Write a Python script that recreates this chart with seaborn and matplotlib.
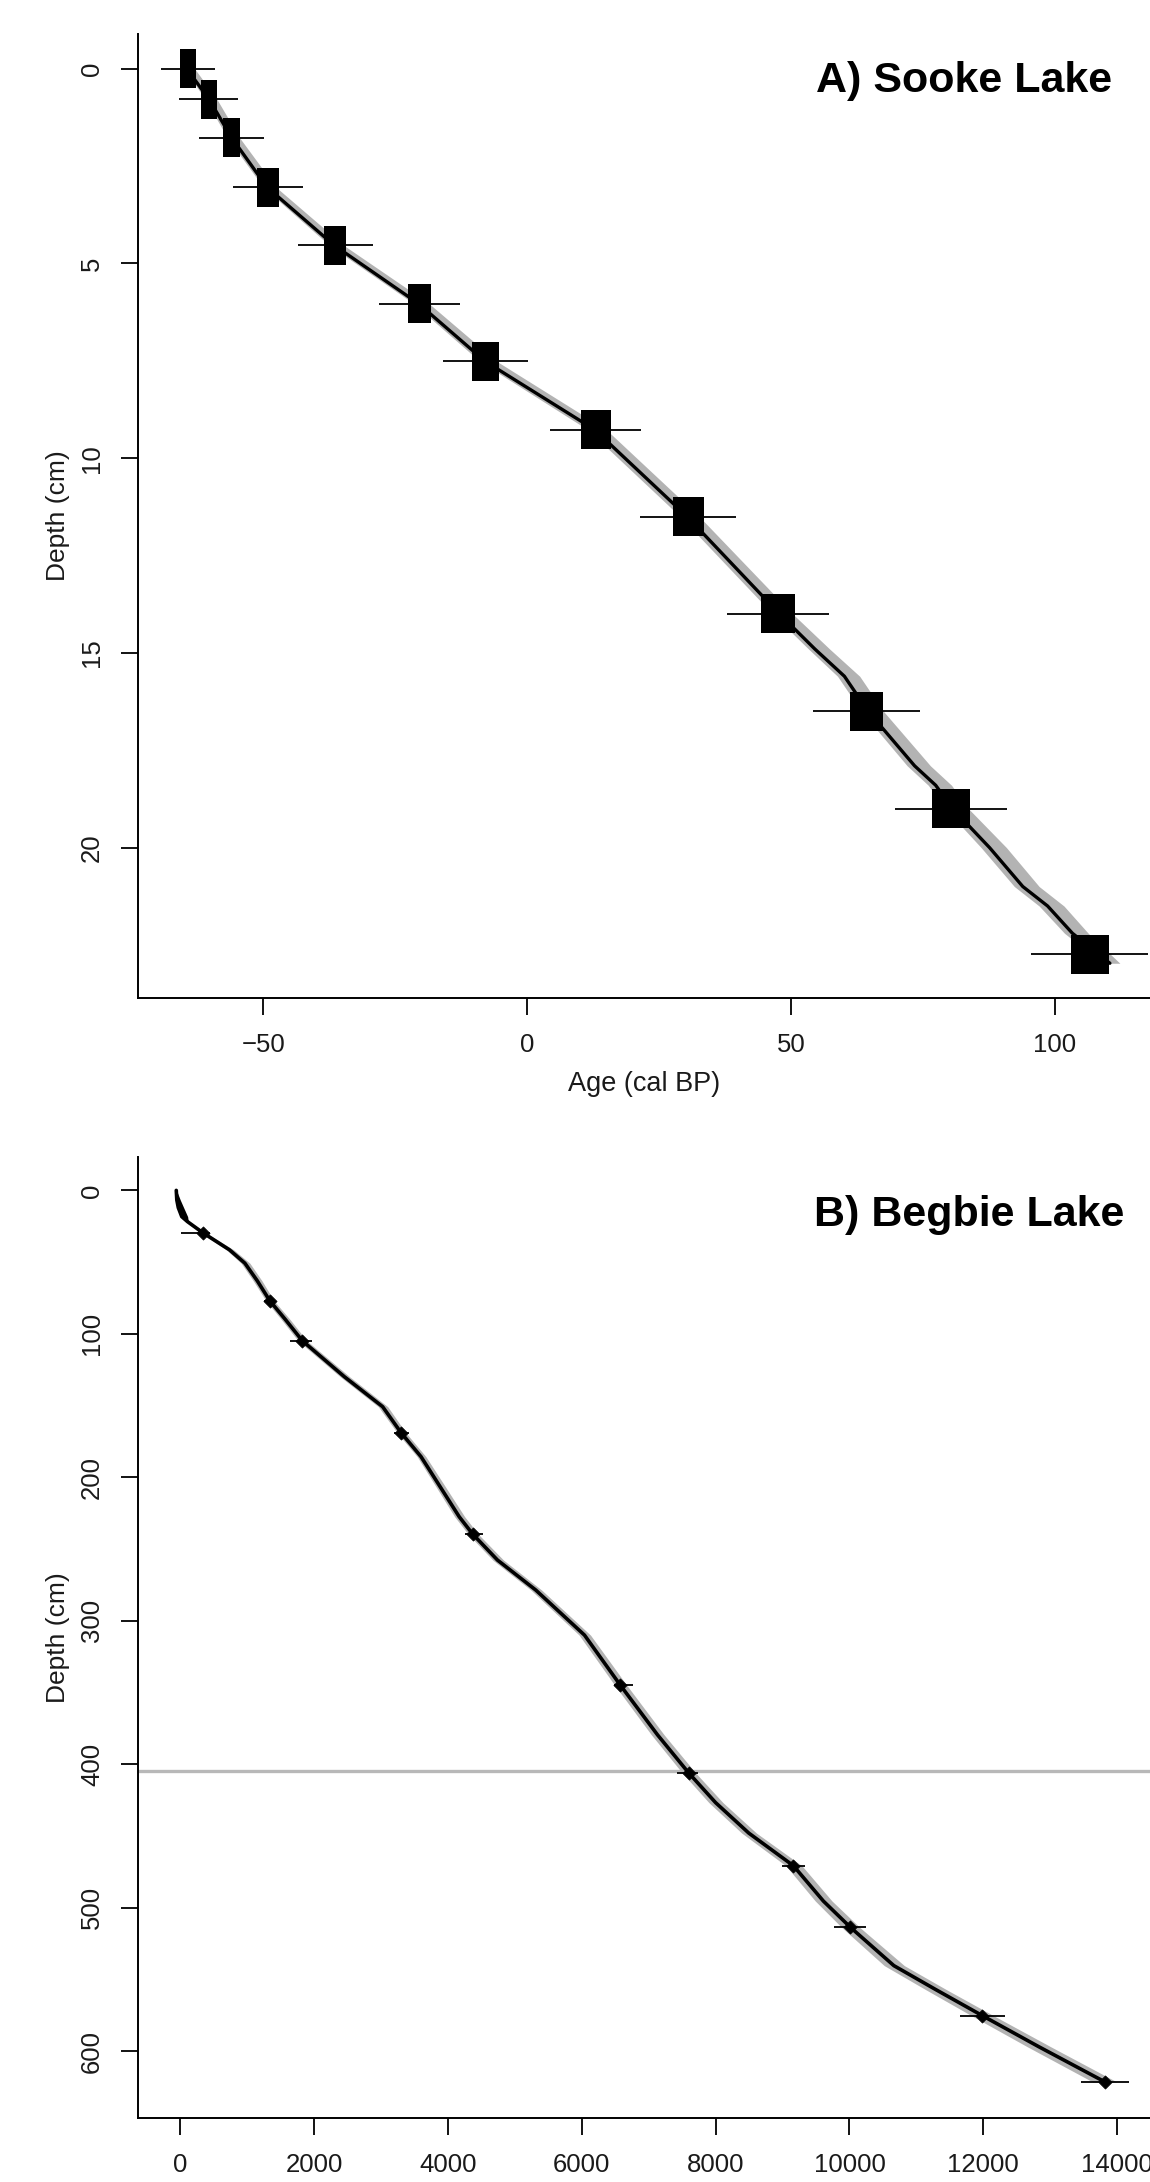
import matplotlib
matplotlib.use("Agg")
import matplotlib.pyplot as plt
import seaborn as sns

# ---- A) Sooke Lake: dated levels (boxes + error bars) ----
sooke_depth = [0.0, 0.78, 1.77, 3.04, 4.53, 6.03, 7.51, 9.27, 11.5, 14.0, 16.5, 19.0, 22.74]
sooke_age = [-64.3, -60.3, -56.0, -49.1, -36.4, -20.4, -7.9, 13.0, 30.5, 47.5, 64.3, 80.3, 106.6]
sooke_box_w = [3.1, 3.1, 3.2, 4.2, 4.1, 4.2, 5.1, 5.6, 5.9, 6.3, 6.1, 7.1, 7.1]
sooke_err = [5.1, 5.6, 6.1, 6.6, 7.1, 7.6, 8.1, 8.6, 9.1, 9.6, 10.1, 10.6, 11.1]

# age-depth model for Sooke Lake (mean line + grey envelope)
sooke_model_depth = [0, 0.78, 1.77, 3.04, 4.53, 6.03, 7.51, 9.27, 11.5, 14.0, 14.9, 15.6,
                     16.5, 17.9, 18.4, 19.0, 20.0, 21.0, 21.5, 22.2, 22.97]
sooke_model_age = [-64.5, -60.3, -56.0, -49.3, -36.6, -20.6, -8.0, 12.8, 30.3, 47.8, 54.5, 60.1,
                   64.6, 73.4, 77.4, 80.6, 87.6, 93.9, 98.6, 103.3, 110.4]
sooke_band_lo = [-65.0, -61.0, -56.8, -50.0, -37.5, -21.5, -9.0, 11.5, 29.0, 46.5, 53.3, 58.8,
                 63.3, 72.0, 76.0, 79.2, 86.0, 92.3, 97.0, 101.8, 109.0]
sooke_band_hi = [-63.0, -58.8, -54.5, -47.6, -34.8, -18.6, -5.8, 15.0, 32.6, 50.3, 57.3, 63.0,
                 67.5, 76.4, 80.4, 83.6, 90.8, 97.0, 101.7, 106.3, 112.3]

# ---- B) Begbie Lake: dated levels ----
begbie_depth = [29.5, 76.9, 104.8, 168.9, 239.5, 344.8, 406.0, 470.8, 513.6, 575.2, 621.6]
begbie_age = [336, 1337, 1823, 3299, 4368, 6574, 7596, 9163, 10012, 11983, 13823]
begbie_err_lo = [5, 1253, 1635, 3196, 4254, 6486, 7428, 8986, 9776, 11645, 13467]
begbie_err_hi = [440, 1396, 1966, 3425, 4523, 6764, 7739, 9340, 10248, 12321, 14180]

# age-depth model for Begbie Lake
begbie_model_depth = [0, 6.7, 12, 18.3, 21.8, 29.5, 41.5, 50.8, 63, 76.9, 90, 104.8, 129.9,
                      150.8, 168.9, 185.6, 206.5, 227.5, 239.5, 257.7, 278.6, 310, 344.8,
                      379.5, 406, 426.8, 448, 470.8, 495.4, 513.6, 540.4, 556.9, 575.2, 597, 621.6]
begbie_model_age = [-60, -52, -30, 22, 108, 336, 737, 966, 1150, 1337, 1570, 1823, 2452,
                    3024, 3299, 3597, 3882, 4168, 4368, 4740, 5312, 6040, 6574,
                    7131, 7596, 8000, 8495, 9163, 9610, 10012, 10663, 11282, 11983, 12832, 13823]
begbie_band_lo = [-65, -60, -45, 0, 80, 300, 690, 910, 1090, 1280, 1510, 1760, 2390,
                  2960, 3240, 3540, 3820, 4100, 4300, 4670, 5240, 5960, 6490,
                  7040, 7500, 7900, 8390, 9050, 9490, 9880, 10520, 11130, 11820, 12660, 13640]
begbie_band_hi = [-55, -40, -10, 50, 140, 380, 800, 1040, 1220, 1400, 1640, 1890, 2530,
                  3100, 3370, 3670, 3960, 4250, 4450, 4830, 5400, 6130, 6670,
                  7230, 7700, 8110, 8610, 9290, 9740, 10150, 10820, 11440, 12150, 13010, 14000]
# dark uncertainty wedge at the core top
begbie_top_depth = [0, 6.7, 12, 18.3, 21.8]
begbie_top_lo = [-64, -62, -50, 0, 100]
begbie_top_hi = [-56, 0, 50, 110, 120]

begbie_hiatus_depth = 405

sns.set_style("ticks")
plt.rcParams["font.family"] = ["Liberation Sans", "DejaVu Sans"]

fig = plt.figure(figsize=(11.5, 21.82), dpi=100)
ax1 = fig.add_axes([0.12017, 0.54248, 0.87983, 0.44207])
ax2 = fig.add_axes([0.12017, 0.02947, 0.87983, 0.44037])

# Panel A
ax1.fill_betweenx(sooke_model_depth, sooke_band_lo, sooke_band_hi, color="#b3b3b3", lw=0, zorder=1)
sns.lineplot(x=sooke_model_age, y=sooke_model_depth, sort=False, estimator=None,
             color="black", lw=2.4, ax=ax1, zorder=2)
ax1.barh(sooke_depth, sooke_box_w,
         left=[a - w / 2 for a, w in zip(sooke_age, sooke_box_w)],
         height=1.0, color="black", edgecolor="black", linewidth=0, zorder=3)
ax1.hlines(sooke_depth, [a - e for a, e in zip(sooke_age, sooke_err)],
           [a + e for a, e in zip(sooke_age, sooke_err)], color="black", lw=1.3, zorder=4)
ax1.set_xlim(-73.7, 118.0)
ax1.set_ylim(23.87, -0.9)
ax1.set_xticks([-50, 0, 50, 100])
ax1.set_yticks([0, 5, 10, 15, 20])
ax1.set_xlabel("Age (cal BP)")
ax1.text(0.963, 0.951, "A) Sooke Lake", transform=ax1.transAxes, ha="right", va="center",
         fontsize=31, fontweight="bold", color="black")

# Panel B
ax2.axhline(begbie_hiatus_depth, color="#b8b8b8", lw=2.4, zorder=1)
ax2.fill_betweenx(begbie_model_depth, begbie_band_lo, begbie_band_hi, color="#b3b3b3", lw=0, zorder=2)
ax2.fill_betweenx(begbie_top_depth, begbie_top_lo, begbie_top_hi, color="black", lw=0, zorder=3)
sns.lineplot(x=begbie_model_age, y=begbie_model_depth, sort=False, estimator=None,
             color="black", lw=2.6, ax=ax2, zorder=3)
ax2.hlines(begbie_depth, begbie_err_lo, begbie_err_hi, color="black", lw=1.3, zorder=4)
sns.scatterplot(x=begbie_age, y=begbie_depth, marker="D", s=45, color="black",
                edgecolor="black", ax=ax2, zorder=5)
ax2.set_xlim(-629, 14491)
ax2.set_ylim(646.4, -23.4)
ax2.set_xticks(range(0, 14001, 2000))
ax2.set_yticks(range(0, 601, 100))
ax2.text(0.975, 0.939, "B) Begbie Lake", transform=ax2.transAxes, ha="right", va="center",
         fontsize=31, fontweight="bold", color="black")

for ax in (ax1, ax2):
    sns.despine(ax=ax)
    for s in ("left", "bottom"):
        ax.spines[s].set_linewidth(1.4)
        ax.spines[s].set_color("black")
    ax.tick_params(axis="both", length=12.2, width=1.3, color="black", labelsize=18.5,
                   labelcolor="#1a1a1a")
    ax.tick_params(axis="x", pad=13)
    ax.tick_params(axis="y", pad=21, labelrotation=90)
    plt.setp(ax.get_yticklabels(), ha="center", va="center")
    ax.set_ylabel("Depth (cm)", fontsize=19, color="#1a1a1a", va="center")
    ax.yaxis.set_label_coords(-0.0793, 0.5)

ax1.xaxis.label.set_fontsize(19.5)
ax1.xaxis.label.set_color("#1a1a1a")
ax1.xaxis.label.set_va("center")
ax1.xaxis.set_label_coords(0.5, -0.089)

fig.savefig("out.png", dpi=100)
